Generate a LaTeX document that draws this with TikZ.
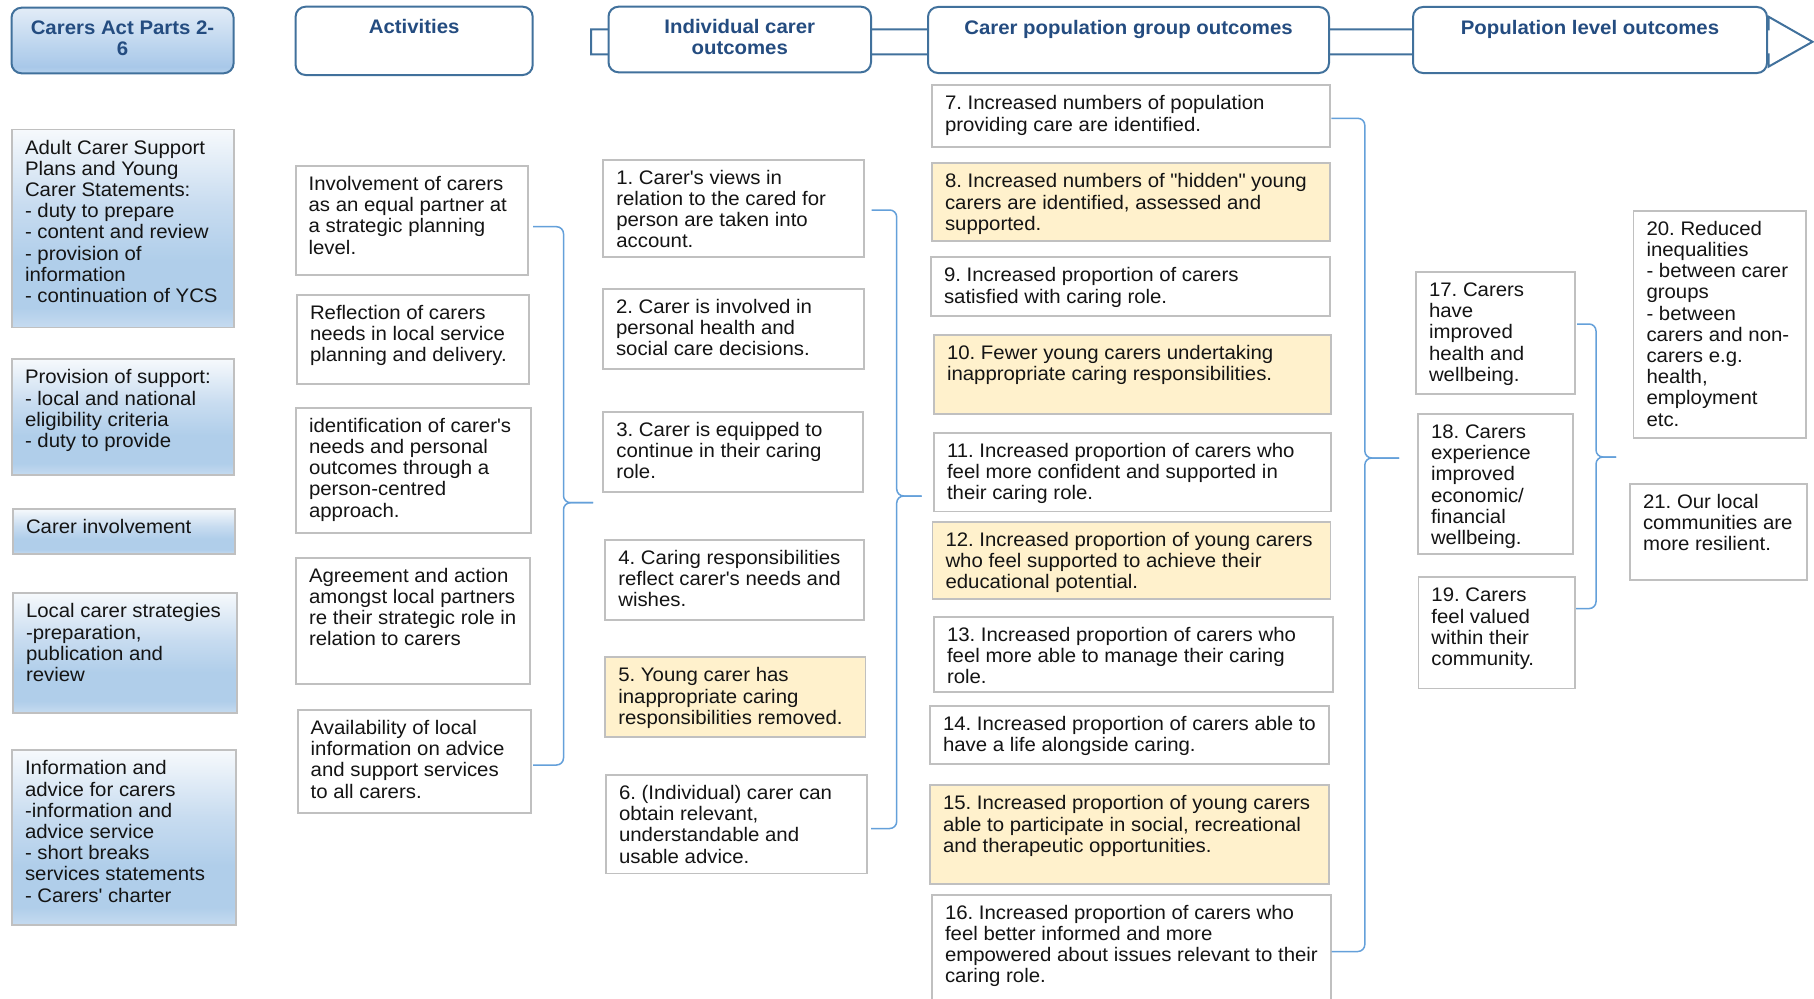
\documentclass[tikz,border=0pt]{standalone}
\usepackage{fontspec}
\setmainfont[FakeStretch=1.04]{Liberation Sans}
\usetikzlibrary{calc}
\frenchspacing

% palette
\definecolor{hdrline}{RGB}{65,113,156}
\definecolor{hdrtext}{RGB}{36,76,128}
\definecolor{boxline}{RGB}{192,192,192}
\definecolor{bodyink}{RGB}{20,20,20}
\definecolor{youngfill}{RGB}{255,241,204}
\definecolor{braceblue}{RGB}{100,160,218}
\definecolor{lawT}{RGB}{246,249,252}
\definecolor{lawU}{RGB}{200,220,240}
\definecolor{lawM}{RGB}{176,206,234}
\definecolor{lawB}{RGB}{198,219,240}
\definecolor{actT}{RGB}{226,236,247}
\definecolor{actM}{RGB}{168,200,233}
\definecolor{actB}{RGB}{182,210,237}

% gradients of the legislation column (path spans 25bp..75bp)
\pgfdeclareverticalshading{lawblue}{100bp}{color(0bp)=(lawB); color(25bp)=(lawB);
  color(30bp)=(lawM); color(42bp)=(lawM); color(56bp)=(lawU); color(75bp)=(lawT); color(100bp)=(lawT)}
\pgfdeclareverticalshading{actblue}{100bp}{color(0bp)=(actB); color(25bp)=(actB);
  color(30bp)=(actM); color(75bp)=(actT); color(100bp)=(actT)}

\newcommand\cbfont{\fontsize{19.6}{21.2}\selectfont}
\newcommand\chfont{\fontsize{19.6}{21.2}\selectfont\bfseries}
\newcommand\qtick{\textquotesingle}
\newcommand\qdbl{\textquotedbl}

\tikzset{
  every node/.style={inner sep=0pt, outer sep=0pt},
  hdr/.style={draw=hdrline, line width=2pt, rounded corners=10pt, fill=white},
  hdrlaw/.style={hdr, shading=actblue},
  hdrtxt/.style={font=\chfont, text=hdrtext, align=center, anchor=north},
  plain/.style={draw=boxline, line width=1.8pt, fill=white},
  young/.style={plain, fill=youngfill},
  law/.style={draw=boxline, line width=1.8pt, shading=lawblue},
  btxt/.style={font=\cbfont, text=bodyink, align=left, anchor=north west},
  brace/.style={draw=braceblue, line width=1.5pt, rounded corners=7pt},
  banner/.style={draw=hdrline, line width=2pt, fill=white, line join=miter},
}

% box with its text set from the top left corner
\newcommand\carebox[7]{%
  \node[#2, anchor=north west, minimum width={(#5)-(#3)}, minimum height={(#6)-(#4)}] (#1) at (#3,#4) {};
  \node[btxt] (#1-t) at ([xshift=13pt, yshift=-9.7pt]#1.north west) {\strut#7};
}
% column heading with centred text
\newcommand\headbox[7]{%
  \node[#2, anchor=north west, minimum width={(#5)-(#3)}, minimum height={(#6)-(#4)}] (#1) at (#3,#4) {};
  \node[hdrtxt] (#1-t) at ([yshift=-12.2pt]#1.north) {\strut#7};
}

\begin{document}
\begin{tikzpicture}[x=1pt, y=-1pt]
\useasboundingbox (0,0) rectangle (1814,998);
\fill[white] (0,0) rectangle (1814,998);

% flow arrow behind the headings
\draw[banner] (591,29.3) -- (1768.5,29.3) -- (1768.5,16.7) -- (1812.5,41.8)
  -- (1768.5,66.7) -- (1768.5,54.3) -- (591,54.3) -- cycle;

% headings
\headbox{h1}{hdrlaw}{11.5}{7.7}{233.6}{73.3}{Carers Act Parts 2-\\6}
\headbox{h2}{hdr}{295.6}{6.7}{532.7}{75}{Activities}
\headbox{h3}{hdr}{608.5}{6.7}{871}{72.3}{Individual carer\\outcomes}
\headbox{h4}{hdr}{928}{7}{1329}{73}{Carer population group outcomes}
\headbox{h5}{hdr}{1413}{7}{1767}{73}{Population level outcomes}

% legislation
\carebox{law1}{law}{12}{129.5}{234}{327.5}{Adult Carer Support\\Plans and Young\\Carer Statements:\\- duty to prepare\\- content and review\\- provision of\\information\\- continuation of YCS}
\carebox{law2}{law}{12}{359.3}{234}{475}{Provision of support:\\- local and national\\eligibility criteria\\- duty to provide}
\carebox{law3}{law}{13}{509}{235}{554}{Carer involvement}
\carebox{law4}{law}{13}{593.3}{237}{713}{Local carer strategies\\-preparation,\\publication and\\review}
\carebox{law5}{law}{12}{750.3}{236}{925}{Information and\\advice for carers\\-information and\\advice service\\- short breaks\\services statements\\- Carers\qtick{} charter}

% activities
\carebox{act1}{plain}{295.6}{166}{527.6}{274.7}{Involvement of carers\\as an equal partner at\\a strategic planning\\level.}
\carebox{act2}{plain}{297}{295}{529}{384.3}{Reflection of carers\\needs in local service\\planning and delivery.}
\carebox{act3}{plain}{296}{407.7}{531}{532.7}{identification of carer\qtick{}s\\needs and personal\\outcomes through a\\person-centred\\approach.}
\carebox{act4}{plain}{296}{557.7}{530}{683.8}{Agreement and action\\amongst local partners\\re their strategic role in\\relation to carers}
\carebox{act5}{plain}{297.7}{710}{531}{813}{Availability of local\\information on advice\\and support services\\to all carers.}

% individual carer outcomes
\carebox{ind1}{plain}{603.3}{159.7}{863.7}{257.3}{1. Carer\qtick{}s views in\\relation to the cared for\\person are taken into\\account.}
\carebox{ind2}{plain}{603}{288.7}{864}{368.7}{2. Carer is involved in\\personal health and\\social care decisions.}
\carebox{ind3}{plain}{603.3}{411.7}{863.3}{492.3}{3. Carer is equipped to\\continue in their caring\\role.}
\carebox{ind4}{plain}{605.3}{539.7}{863.7}{620}{4. Caring responsibilities\\reflect carer\qtick{}s needs and\\wishes.}
\carebox{ind5}{young}{605.3}{657.3}{865.4}{737}{5. Young carer has\\inappropriate caring\\responsibilities removed.}
\carebox{ind6}{plain}{606}{775}{866.6}{873.5}{6. (Individual) carer can\\obtain relevant,\\understandable and\\usable advice.}

% carer population group outcomes
\carebox{pop7}{plain}{932}{85.3}{1329.6}{147.3}{7. Increased numbers of population\\providing care are identified.}
\carebox{pop8}{young}{932}{163.3}{1329.6}{241}{8. Increased numbers of \qdbl{}hidden\qdbl{} young\\carers are identified, assessed and\\supported.}
\carebox{pop9}{plain}{931}{257.3}{1329.6}{315.7}{9. Increased proportion of carers\\satisfied with caring role.}
\carebox{pop10}{young}{934}{335}{1331}{414.3}{10. Fewer young carers undertaking\\inappropriate caring responsibilities.}
\carebox{pop11}{plain}{934}{432.7}{1331}{511.4}{11. Increased proportion of carers who\\feel more confident and supported in\\their caring role.}
\carebox{pop12}{young}{932.5}{521.8}{1330.5}{599.3}{12. Increased proportion of young carers\\who feel supported to achieve their\\educational potential.}
\carebox{pop13}{plain}{934}{616.7}{1333.3}{692}{13. Increased proportion of carers who\\feel more able to manage their caring\\role.}
\carebox{pop14}{plain}{930}{705.7}{1329.3}{764.3}{14. Increased proportion of carers able to\\have a life alongside caring.}
\carebox{pop15}{young}{930}{785.3}{1329.3}{883.7}{15. Increased proportion of young carers\\able to participate in social, recreational\\and therapeutic opportunities.}
\carebox{pop16}{plain}{932}{894.7}{1331.3}{1006}{16. Increased proportion of carers who\\feel better informed and more\\empowered about issues relevant to their\\caring role.}

% population level outcomes
\carebox{pl17}{plain}{1416}{272}{1575}{394}{17. Carers\\have\\improved\\health and\\wellbeing.}
\carebox{pl18}{plain}{1418}{414}{1573}{554}{18. Carers\\experience\\improved\\economic/\\financial\\wellbeing.}
\carebox{pl19}{plain}{1418.4}{577.3}{1574.6}{688.4}{19. Carers\\feel valued\\within their\\community.}
\carebox{pl20}{plain}{1633.5}{210.7}{1806}{438}{20. Reduced\\inequalities\\- between carer\\groups\\- between\\carers and non-\\carers e.g.\\health,\\employment\\etc.}
\carebox{pl21}{plain}{1630}{484}{1807}{580}{21. Our local\\communities are\\more resilient.}

% brace end points
\coordinate (br1-top) at (533,226.7);   \coordinate (br1-bot) at (533,765);
\coordinate (br1-x)   at (563.5,0);     \coordinate (br1-tip) at (593,502.7);
\coordinate (br2-top) at (871.7,210);   \coordinate (br2-bot) at (871,828.5);
\coordinate (br2-x)   at (896.7,0);     \coordinate (br2-tip) at (921.7,496);
\coordinate (br3-top) at (1331.4,118.3); \coordinate (br3-bot) at (1331.5,951.5);
\coordinate (br3-x)   at (1364.8,0);    \coordinate (br3-tip) at (1399,458);
\coordinate (br4-top) at (1577,324);    \coordinate (br4-bot) at (1576,608.6);
\coordinate (br4-x)   at (1596,0);      \coordinate (br4-tip) at (1616,457);

% braces gathering each column into the next
\foreach \b in {br1,br2,br3,br4}{
  \draw[brace] (\b-top) -| (\b-x |- \b-tip) -- (\b-tip);
  \draw[brace] (\b-tip) -- (\b-x |- \b-tip) |- (\b-bot);
}
\end{tikzpicture}
\end{document}
